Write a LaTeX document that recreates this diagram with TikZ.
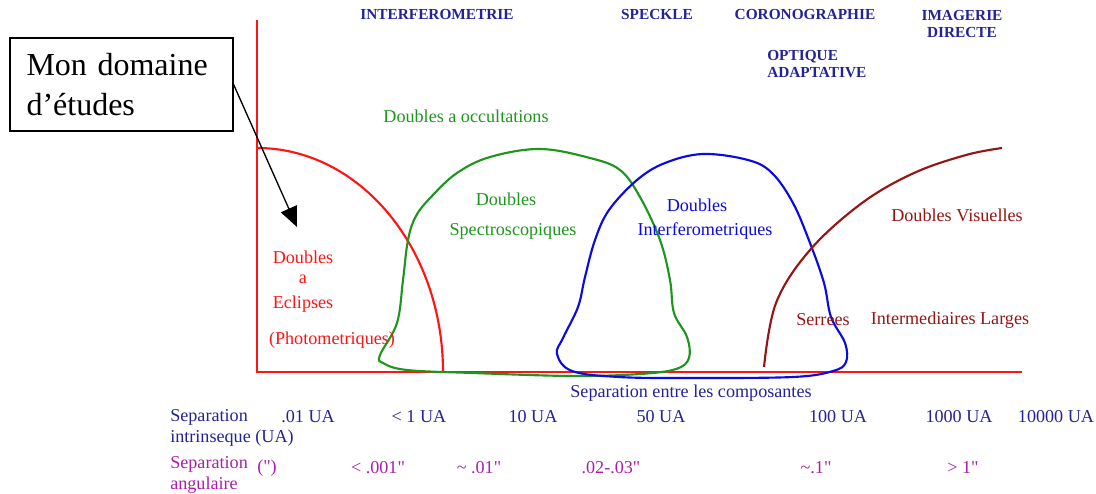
\documentclass[tikz,border=0pt]{standalone}
\usepackage{fontspec}
\setmainfont{Liberation Serif}[Ligatures=TeXOff]
\usetikzlibrary{arrows.meta}
\definecolor{navy}{RGB}{35,35,150}
\definecolor{bluec}{RGB}{10,10,225}
\definecolor{greenc}{RGB}{30,150,30}
\definecolor{redc}{RGB}{255,20,20}
\definecolor{darkredc}{RGB}{150,20,20}
\definecolor{purplec}{RGB}{170,30,170}
\tikzset{
  lbl/.style={font=\fontsize{13.6}{16}\selectfont, inner sep=0pt},
  toplbl/.style={font=\fontsize{11.5}{14}\selectfont\bfseries, text=navy, inner sep=0pt},
  curve/.style={line width=1.6pt},
}
\begin{document}
\begin{tikzpicture}[x=0.75pt,y=-0.75pt]
\useasboundingbox (0,0) rectangle (1096,493);
% axes
\draw[redc, line width=1.8pt] (257,20) -- (257,372) -- (1022,372);
% red arc
\draw[redc, curve] (257,148) arc[start angle=90, end angle=0, x radius=186, y radius=-224];
% green closed curve
\draw[greenc, curve] plot[smooth cycle, tension=0.6] coordinates {
 (380,355) (397,323) (403,280) (408,240) (416,216) (432,196) (457,173) (490,157) (540,149)
 (590,158) (620,170) (640,197) (660,240) (670,280) (674,313) (687,337) (689,358)
 (676,369) (640,374) (573,376) (473,373) (407,370) (383,363)};
% blue closed curve
\draw[bluec, curve] plot[smooth cycle, tension=0.6] coordinates {
 (557,354) (563,338) (578,307) (585,277) (595,240) (609,210) (637,180) (665,163) (703,154)
 (748,160) (772,173) (793,203) (810,243) (824,283) (831,317) (845,343) (846,362)
 (833,371) (793,377) (689,378) (619,377) (572,371)};
% dark red curve
\draw[darkredc, curve] plot[smooth, tension=0.6] coordinates {
 (764,367) (776,303) (810,250) (862,203) (914,173) (966,155) (1002,148)};
% box and arrow
\node[draw, line width=0.9pt, minimum width=223*0.75pt, minimum height=93*0.75pt, inner sep=0pt,
      align=left, font=\fontsize{24}{30}\selectfont, text width=190*0.75pt] (box) at (121.5,84.5)
      {Mon domaine\\d’études};
\coordinate (tip) at (297,227);
\draw[line width=1pt, -{Triangle[length=15pt,width=13pt]}] (box.east) -- (tip);
% top labels
\node[toplbl] (t1) at (437,14) {INTERFEROMETRIE};
\node[toplbl] (t2) at (657,14) {SPECKLE};
\node[toplbl] (t3) at (805,14) {CORONOGRAPHIE};
\node[toplbl, align=center] (t4) at (962,24) {IMAGERIE\\[-1pt]DIRECTE};
\node[toplbl, align=left, anchor=west] (t5) at (767,64) {OPTIQUE\\[-1pt]ADAPTATIVE};
% curve labels
\node[lbl, text=greenc] (g0) at (466,116) {Doubles a occultations};
\node[lbl, text=greenc] (g1) at (506,199) {Doubles};
\node[lbl, text=greenc] (g2) at (513,231) {Spectroscopiques};
\node[lbl, text=bluec] (b1) at (697,205) {Doubles};
\node[lbl, text=bluec] (b2) at (705,231) {Interferometriques};
\node[lbl, text=darkredc] (v1) at (957,215) {Doubles Visuelles};
\node[lbl, text=darkredc] (v2) at (823,320) {Serrees};
\node[lbl, text=darkredc] (v3) at (950,320) {Intermediaires Larges};
\node[lbl, text=redc] (r1) at (303,257) {Doubles};
\node[lbl, text=redc] (r2) at (303,279) {a};
\node[lbl, text=redc] (r3) at (303,304) {Eclipses};
\node[lbl, text=redc] (r4) at (332,340) {(Photometriques)};
% axis labels
\node[lbl, text=navy] (ax) at (691,393) {Separation entre les composantes};
\node[lbl, text=navy, anchor=west] (s1) at (170,417) {Separation};
\node[lbl, text=navy, anchor=west] (s2) at (170,438) {intrinseque (UA)};
\node[lbl, text=navy] (u1) at (308,417) {.01 UA};
\node[lbl, text=navy] (u2) at (419,417) {< 1 UA};
\node[lbl, text=navy] (u3) at (533,417) {10 UA};
\node[lbl, text=navy] (u4) at (661,417) {50 UA};
\node[lbl, text=navy] (u5) at (838,417) {100 UA};
\node[lbl, text=navy] (u6) at (959,417) {1000 UA};
\node[lbl, text=navy] (u7) at (1056,417) {10000 UA};
\node[lbl, text=purplec, anchor=west] (a1) at (170,464) {Separation};
\node[lbl, text=purplec, anchor=west] (a2) at (170,485) {angulaire};
\node[lbl, text=purplec] (p0) at (267,468) {(")};
\node[lbl, text=purplec] (p1) at (378,468) {< .001"};
\node[lbl, text=purplec] (p2) at (479,468) {\char"007E{} .01"};
\node[lbl, text=purplec] (p3) at (611,468) {.02-.03"};
\node[lbl, text=purplec] (p4) at (816,468) {\char"007E.1"};
\node[lbl, text=purplec] (p5) at (963,468) {> 1"};
\end{tikzpicture}
\end{document}
